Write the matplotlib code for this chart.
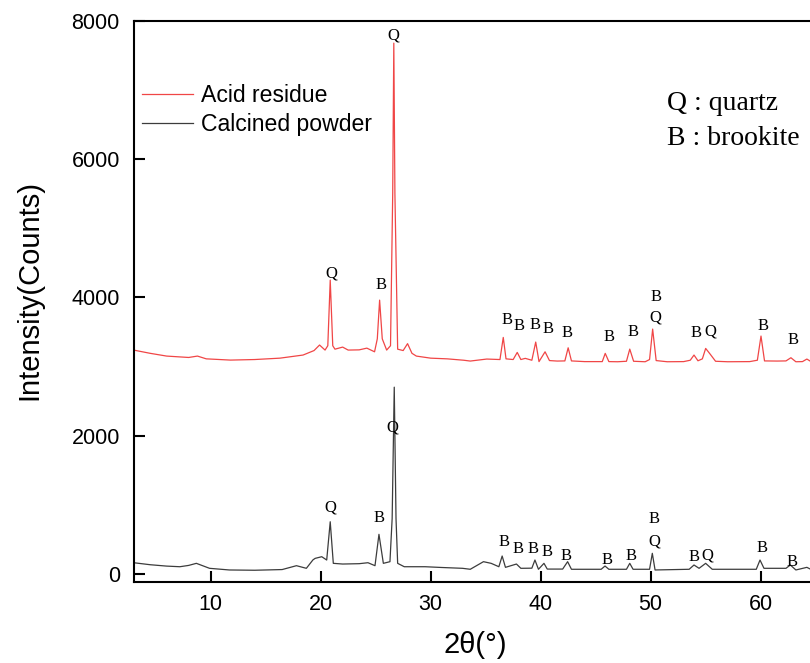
import matplotlib
matplotlib.use("Agg")
import matplotlib.pyplot as plt

# XRD patterns (2theta in degrees, counts)
tt_acid = [3.0, 4.5, 6.0, 8.0, 8.8, 9.6, 11.8, 14.0, 16.3, 18.4, 19.4, 19.9, 20.4, 20.65,
           20.87, 21.1, 21.3, 22.0, 22.5, 23.5, 24.2, 24.9, 25.15, 25.36, 25.6, 26.0, 26.35,
           26.55, 26.65, 26.75, 27.0, 27.5, 27.9, 28.3, 28.7, 30.0, 31.5, 33.0, 33.6, 35.1,
           36.3, 36.6, 36.85, 37.5, 37.87, 38.2, 38.6, 39.2, 39.55, 39.85, 40.4, 40.8, 41.5,
           42.2, 42.5, 42.8, 44.0, 45.6, 45.87, 46.2, 47.0, 47.8, 48.1, 48.45, 49.5, 49.9,
           50.18, 50.5, 51.5, 53.0, 53.6, 53.94, 54.3, 54.7, 55.0, 55.4, 55.9, 57.0, 59.0,
           59.7, 60.03, 60.35, 61.5, 62.3, 62.75, 63.2, 63.8, 64.2, 64.6, 65.5]
i_acid = [3237, 3190, 3150, 3130, 3150, 3110, 3092, 3100, 3120, 3165, 3230, 3310, 3237, 3300,
          4250, 3300, 3250, 3280, 3237, 3240, 3265, 3212, 3400, 3960, 3400, 3237, 3300,
          5500, 7680, 5500, 3250, 3230, 3330, 3190, 3150, 3120, 3110, 3090, 3078, 3107,
          3100, 3420, 3110, 3100, 3203, 3100, 3117, 3090, 3353, 3070, 3212, 3085, 3078,
          3080, 3270, 3080, 3070, 3070, 3189, 3070, 3068, 3075, 3251, 3075, 3068, 3100,
          3541, 3085, 3068, 3070, 3090, 3165, 3082, 3110, 3261, 3180, 3075, 3068, 3070,
          3090, 3440, 3080, 3078, 3080, 3126, 3068, 3070, 3107, 3068, 3070]

tt_calc = [3.0, 4.5, 6.0, 7.2, 8.0, 8.7, 9.9, 11.7, 14.0, 16.5, 17.8, 18.7, 19.3, 19.5,
           20.1, 20.55, 20.87, 21.15, 22.0, 23.5, 24.3, 24.94, 25.3, 25.7, 26.3, 26.5, 26.69,
           26.85, 27.0, 27.6, 29.5, 31.0, 32.9, 33.6, 34.8, 35.5, 36.2, 36.5, 36.8, 37.8,
           38.2, 39.2, 39.48, 39.8, 40.3, 40.6, 42.0, 42.45, 42.8, 45.5, 45.85, 46.2, 47.8,
           48.1, 48.4, 49.9, 50.15, 50.4, 53.5, 53.94, 54.4, 55.0, 55.6, 59.6, 59.94, 60.3,
           62.3, 62.7, 63.2, 64.2, 64.6, 65.5]
i_calc = [159, 130, 110, 101, 120, 150, 78, 54, 50, 60, 116, 78, 200, 222,
          246, 198, 752, 150, 140, 145, 159, 116, 570, 150, 174, 800, 2700,
          800, 150, 101, 101, 90, 78, 64, 174, 150, 101, 256, 92, 140,
          78, 80, 198, 64, 150, 67, 67, 174, 64, 64, 111, 64, 64,
          150, 64, 64, 295, 54, 64, 126, 78, 150, 64, 64, 198, 78,
          78, 126, 54, 92, 60, 64]

# phase labels: (2theta, intensity, text)
lab_acid_x = [21.0, 25.45, 26.6, 36.9, 38.05, 39.48, 40.69, 42.36, 46.24, 48.36, 50.45, 50.45, 54.09, 55.39, 60.24, 62.9]
lab_acid_y = [4347, 4178, 7785, 3671, 3589, 3599, 3537, 3479, 3421, 3493, 4008, 3704, 3479, 3502, 3589, 3382]
lab_acid_t = ["Q", "B", "Q", "B", "B", "B", "B", "B", "B", "B", "B", "Q", "B", "Q", "B", "B"]

lab_calc_x = [20.85, 25.3, 26.48, 36.69, 37.96, 39.27, 40.55, 42.27, 46.03, 48.2, 50.3, 50.3, 53.94, 55.18, 60.09, 62.82]
lab_calc_y = [961, 801, 2123, 454, 357, 357, 310, 256, 198, 256, 787, 473, 246, 270, 376, 174]
lab_calc_t = ["Q", "B", "Q", "B", "B", "B", "B", "B", "B", "B", "B", "Q", "B", "Q", "B", "B"]

fig = plt.figure(figsize=(8.1, 6.63), dpi=100)
ax = fig.add_axes([0.165, 0.1226, 0.9099, 0.8457])

ax.plot(tt_acid, i_acid, color="#f04646", lw=0.9, label="Acid residue")
ax.plot(tt_calc, i_calc, color="#3c3c3c", lw=0.9, label="Calcined powder")

for x, y, t in zip(lab_acid_x, lab_acid_y, lab_acid_t):
    ax.text(x, y, t, ha="center", va="center", fontsize=12, family="Liberation Serif")
for x, y, t in zip(lab_calc_x, lab_calc_y, lab_calc_t):
    ax.text(x, y, t, ha="center", va="center", fontsize=12, family="Liberation Serif")

ax.set_xlim(3, 70)
ax.set_ylim(-116, 8000)
ax.set_xticks([10, 20, 30, 40, 50, 60])
ax.set_yticks([0, 2000, 4000, 6000, 8000])
for s in ax.spines.values():
    s.set_linewidth(1.5)
ax.tick_params(direction="in", length=8, width=1.5, labelsize=15.5)
ax.tick_params(axis="y", pad=10)
ax.tick_params(axis="x", pad=9)
for lb in ax.get_xticklabels() + ax.get_yticklabels():
    lb.set_family("Liberation Sans")

fig.text(29 / 810, 1 - 290 / 663, "Intensity(Counts)", rotation=90, ha="center", va="center",
         fontsize=21, family="Liberation Sans")
fig.text(475 / 810, 1 - 645 / 663, "2θ(°)", ha="center", va="center",
         fontsize=21, family="Liberation Sans")

fig.legend(loc="upper left", bbox_to_anchor=(142 / 810, 1 - 84 / 663), frameon=False,
           borderpad=0, borderaxespad=0, handlelength=2.2, handletextpad=0.35,
           labelspacing=0.25, prop={"family": "Liberation Sans", "size": 16.6})

fig.text(667 / 810, 1 - 110 / 663, "Q : quartz", ha="left", va="baseline",
         fontsize=20, family="Liberation Serif")
fig.text(667 / 810, 1 - 145 / 663, "B : brookite", ha="left", va="baseline",
         fontsize=20, family="Liberation Serif")

fig.savefig("out.png", dpi=100)
